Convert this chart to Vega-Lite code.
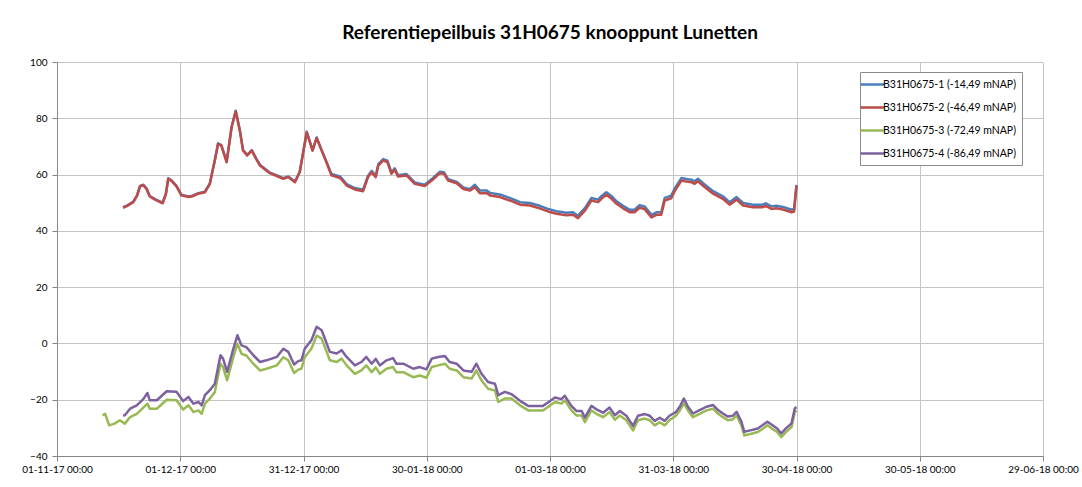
{
"$schema": "https://vega.github.io/schema/vega-lite/v6.json",
"width": 986, "height": 394,
"autosize": {"type": "none"},
"padding": {"left": 57, "top": 62, "right": 39, "bottom": 31},
"background": "white",
"config": {"view": {"stroke": null}},
"title": {"text": "Referentiepeilbuis 31H0675 knooppunt Lunetten", "font": "Lato", "fontSize": 19, "fontWeight": "bold", "color": "#000000", "anchor": "middle", "offset": 14},
"data": {"values": [
{"s":"1","t":"2017-11-17T02:00","v":48.4},{"s":"1","t":"2017-11-18T00:00","v":49.0},{"s":"1","t":"2017-11-19T14:00","v":50.4},{"s":"1","t":"2017-11-20T12:00","v":52.7},{"s":"1","t":"2017-11-21T05:00","v":56.0},{"s":"1","t":"2017-11-22T00:00","v":56.4},{"s":"1","t":"2017-11-22T19:00","v":55.1},{"s":"1","t":"2017-11-23T14:00","v":52.4},{"s":"1","t":"2017-11-25T00:00","v":51.2},{"s":"1","t":"2017-11-26T17:00","v":50.0},{"s":"1","t":"2017-11-27T12:00","v":53.2},{"s":"1","t":"2017-11-28T02:00","v":58.7},{"s":"1","t":"2017-11-29T00:00","v":57.8},{"s":"1","t":"2017-11-30T02:00","v":56.0},{"s":"1","t":"2017-12-01T07:00","v":52.8},{"s":"1","t":"2017-12-03T00:00","v":52.2},{"s":"1","t":"2017-12-04T00:00","v":52.5},{"s":"1","t":"2017-12-05T10:00","v":53.4},{"s":"1","t":"2017-12-07T00:00","v":53.9},{"s":"1","t":"2017-12-08T05:00","v":56.9},{"s":"1","t":"2017-12-09T10:00","v":65.2},{"s":"1","t":"2017-12-10T05:00","v":71.1},{"s":"1","t":"2017-12-11T00:00","v":70.5},{"s":"1","t":"2017-12-12T07:00","v":64.6},{"s":"1","t":"2017-12-13T12:00","v":77.0},{"s":"1","t":"2017-12-14T12:00","v":82.7},{"s":"1","t":"2017-12-15T12:00","v":75.8},{"s":"1","t":"2017-12-16T07:00","v":68.7},{"s":"1","t":"2017-12-17T07:00","v":67.0},{"s":"1","t":"2017-12-18T10:00","v":68.7},{"s":"1","t":"2017-12-19T12:00","v":65.7},{"s":"1","t":"2017-12-20T10:00","v":63.4},{"s":"1","t":"2017-12-22T19:00","v":60.7},{"s":"1","t":"2017-12-24T12:00","v":59.7},{"s":"1","t":"2017-12-26T02:00","v":58.7},{"s":"1","t":"2017-12-27T07:00","v":59.3},{"s":"1","t":"2017-12-28T22:00","v":57.5},{"s":"1","t":"2017-12-30T02:00","v":61.0},{"s":"1","t":"2017-12-31T19:00","v":75.2},{"s":"1","t":"2018-01-02T05:00","v":68.7},{"s":"1","t":"2018-01-03T05:00","v":73.2},{"s":"1","t":"2018-01-04T10:00","v":68.7},{"s":"1","t":"2018-01-05T14:00","v":64.6},{"s":"1","t":"2018-01-06T19:00","v":60.2},{"s":"1","t":"2018-01-08T22:00","v":59.3},{"s":"1","t":"2018-01-10T12:00","v":56.6},{"s":"1","t":"2018-01-12T12:00","v":55.2},{"s":"1","t":"2018-01-14T12:00","v":54.6},{"s":"1","t":"2018-01-15T17:00","v":59.6},{"s":"1","t":"2018-01-16T14:00","v":61.3},{"s":"1","t":"2018-01-17T14:00","v":59.6},{"s":"1","t":"2018-01-18T05:00","v":63.7},{"s":"1","t":"2018-01-19T10:00","v":65.5},{"s":"1","t":"2018-01-20T10:00","v":64.9},{"s":"1","t":"2018-01-21T10:00","v":60.8},{"s":"1","t":"2018-01-22T05:00","v":62.2},{"s":"1","t":"2018-01-23T00:00","v":59.8},{"s":"1","t":"2018-01-25T02:00","v":60.2},{"s":"1","t":"2018-01-27T02:00","v":57.2},{"s":"1","t":"2018-01-29T12:00","v":56.4},{"s":"1","t":"2018-01-31T05:00","v":58.4},{"s":"1","t":"2018-02-02T05:00","v":61.0},{"s":"1","t":"2018-02-03T05:00","v":60.8},{"s":"1","t":"2018-02-04T05:00","v":58.4},{"s":"1","t":"2018-02-06T07:00","v":57.4},{"s":"1","t":"2018-02-07T22:00","v":55.4},{"s":"1","t":"2018-02-09T12:00","v":54.8},{"s":"1","t":"2018-02-10T17:00","v":56.4},{"s":"1","t":"2018-02-11T22:00","v":54.3},{"s":"1","t":"2018-02-13T14:00","v":54.3},{"s":"1","t":"2018-02-14T10:00","v":53.5},{"s":"1","t":"2018-02-16T00:00","v":53.1},{"s":"1","t":"2018-02-16T19:00","v":52.9},{"s":"1","t":"2018-02-19T05:00","v":51.7},{"s":"1","t":"2018-02-21T17:00","v":50.2},{"s":"1","t":"2018-02-24T02:00","v":49.9},{"s":"1","t":"2018-02-26T12:00","v":48.9},{"s":"1","t":"2018-02-28T12:00","v":47.8},{"s":"1","t":"2018-03-02T14:00","v":47.0},{"s":"1","t":"2018-03-05T00:00","v":46.4},{"s":"1","t":"2018-03-06T14:00","v":46.6},{"s":"1","t":"2018-03-07T19:00","v":45.4},{"s":"1","t":"2018-03-09T12:00","v":48.1},{"s":"1","t":"2018-03-11T02:00","v":51.7},{"s":"1","t":"2018-03-12T17:00","v":51.1},{"s":"1","t":"2018-03-13T12:00","v":52.3},{"s":"1","t":"2018-03-14T17:00","v":53.7},{"s":"1","t":"2018-03-16T00:00","v":52.3},{"s":"1","t":"2018-03-17T05:00","v":50.5},{"s":"1","t":"2018-03-18T19:00","v":48.9},{"s":"1","t":"2018-03-20T10:00","v":47.5},{"s":"1","t":"2018-03-21T14:00","v":47.5},{"s":"1","t":"2018-03-22T19:00","v":49.1},{"s":"1","t":"2018-03-24T00:00","v":48.7},{"s":"1","t":"2018-03-25T17:00","v":45.7},{"s":"1","t":"2018-03-26T22:00","v":46.6},{"s":"1","t":"2018-03-28T02:00","v":46.6},{"s":"1","t":"2018-03-28T22:00","v":51.7},{"s":"1","t":"2018-03-30T12:00","v":52.5},{"s":"1","t":"2018-03-31T10:00","v":55.2},{"s":"1","t":"2018-04-02T00:00","v":58.8},{"s":"1","t":"2018-04-03T05:00","v":58.4},{"s":"1","t":"2018-04-04T10:00","v":58.2},{"s":"1","t":"2018-04-05T05:00","v":57.6},{"s":"1","t":"2018-04-06T00:00","v":58.5},{"s":"1","t":"2018-04-07T17:00","v":56.4},{"s":"1","t":"2018-04-09T17:00","v":54.1},{"s":"1","t":"2018-04-12T02:00","v":52.3},{"s":"1","t":"2018-04-13T17:00","v":50.2},{"s":"1","t":"2018-04-15T10:00","v":52.0},{"s":"1","t":"2018-04-17T00:00","v":49.9},{"s":"1","t":"2018-04-19T10:00","v":49.3},{"s":"1","t":"2018-04-21T19:00","v":49.3},{"s":"1","t":"2018-04-22T12:00","v":49.8},{"s":"1","t":"2018-04-23T22:00","v":48.7},{"s":"1","t":"2018-04-25T02:00","v":48.9},{"s":"1","t":"2018-04-26T17:00","v":48.5},{"s":"1","t":"2018-04-28T19:00","v":47.5},{"s":"1","t":"2018-04-29T10:00","v":47.8},{"s":"1","t":"2018-04-30T00:00","v":56.3},
{"s":"2","t":"2017-11-17T02:00","v":48.2},{"s":"2","t":"2017-11-18T00:00","v":48.8},{"s":"2","t":"2017-11-19T14:00","v":50.2},{"s":"2","t":"2017-11-20T12:00","v":52.5},{"s":"2","t":"2017-11-21T05:00","v":55.8},{"s":"2","t":"2017-11-22T00:00","v":56.2},{"s":"2","t":"2017-11-22T19:00","v":54.9},{"s":"2","t":"2017-11-23T14:00","v":52.2},{"s":"2","t":"2017-11-25T00:00","v":51.0},{"s":"2","t":"2017-11-26T17:00","v":49.8},{"s":"2","t":"2017-11-27T12:00","v":53.0},{"s":"2","t":"2017-11-28T02:00","v":58.5},{"s":"2","t":"2017-11-29T00:00","v":57.6},{"s":"2","t":"2017-11-30T02:00","v":55.8},{"s":"2","t":"2017-12-01T07:00","v":52.6},{"s":"2","t":"2017-12-03T00:00","v":52.0},{"s":"2","t":"2017-12-04T00:00","v":52.3},{"s":"2","t":"2017-12-05T10:00","v":53.2},{"s":"2","t":"2017-12-07T00:00","v":53.7},{"s":"2","t":"2017-12-08T05:00","v":56.7},{"s":"2","t":"2017-12-09T10:00","v":65.0},{"s":"2","t":"2017-12-10T05:00","v":70.9},{"s":"2","t":"2017-12-11T00:00","v":70.3},{"s":"2","t":"2017-12-12T07:00","v":64.4},{"s":"2","t":"2017-12-13T12:00","v":76.8},{"s":"2","t":"2017-12-14T12:00","v":82.5},{"s":"2","t":"2017-12-15T12:00","v":75.6},{"s":"2","t":"2017-12-16T07:00","v":68.5},{"s":"2","t":"2017-12-17T07:00","v":66.8},{"s":"2","t":"2017-12-18T10:00","v":68.5},{"s":"2","t":"2017-12-19T12:00","v":65.5},{"s":"2","t":"2017-12-20T10:00","v":63.2},{"s":"2","t":"2017-12-22T19:00","v":60.5},{"s":"2","t":"2017-12-24T12:00","v":59.5},{"s":"2","t":"2017-12-26T02:00","v":58.5},{"s":"2","t":"2017-12-27T07:00","v":59.1},{"s":"2","t":"2017-12-28T22:00","v":57.3},{"s":"2","t":"2017-12-30T02:00","v":60.8},{"s":"2","t":"2017-12-31T19:00","v":75.0},{"s":"2","t":"2018-01-02T05:00","v":68.5},{"s":"2","t":"2018-01-03T05:00","v":73.0},{"s":"2","t":"2018-01-04T10:00","v":68.5},{"s":"2","t":"2018-01-05T14:00","v":64.4},{"s":"2","t":"2018-01-06T19:00","v":59.7},{"s":"2","t":"2018-01-08T22:00","v":58.8},{"s":"2","t":"2018-01-10T12:00","v":56.1},{"s":"2","t":"2018-01-12T12:00","v":54.7},{"s":"2","t":"2018-01-14T12:00","v":54.1},{"s":"2","t":"2018-01-15T17:00","v":59.1},{"s":"2","t":"2018-01-16T14:00","v":60.8},{"s":"2","t":"2018-01-17T14:00","v":59.1},{"s":"2","t":"2018-01-18T05:00","v":63.2},{"s":"2","t":"2018-01-19T10:00","v":65.0},{"s":"2","t":"2018-01-20T10:00","v":64.4},{"s":"2","t":"2018-01-21T10:00","v":60.3},{"s":"2","t":"2018-01-22T05:00","v":61.7},{"s":"2","t":"2018-01-23T00:00","v":59.3},{"s":"2","t":"2018-01-25T02:00","v":59.7},{"s":"2","t":"2018-01-27T02:00","v":56.7},{"s":"2","t":"2018-01-29T12:00","v":55.9},{"s":"2","t":"2018-01-31T05:00","v":57.9},{"s":"2","t":"2018-02-02T05:00","v":60.5},{"s":"2","t":"2018-02-03T05:00","v":60.3},{"s":"2","t":"2018-02-04T05:00","v":57.9},{"s":"2","t":"2018-02-06T07:00","v":56.9},{"s":"2","t":"2018-02-07T22:00","v":54.9},{"s":"2","t":"2018-02-09T12:00","v":54.3},{"s":"2","t":"2018-02-10T17:00","v":55.5},{"s":"2","t":"2018-02-11T22:00","v":53.4},{"s":"2","t":"2018-02-13T14:00","v":53.4},{"s":"2","t":"2018-02-14T10:00","v":52.6},{"s":"2","t":"2018-02-16T00:00","v":52.2},{"s":"2","t":"2018-02-16T19:00","v":52.0},{"s":"2","t":"2018-02-19T05:00","v":50.8},{"s":"2","t":"2018-02-21T17:00","v":49.3},{"s":"2","t":"2018-02-24T02:00","v":49.0},{"s":"2","t":"2018-02-26T12:00","v":48.0},{"s":"2","t":"2018-02-28T12:00","v":46.9},{"s":"2","t":"2018-03-02T14:00","v":46.1},{"s":"2","t":"2018-03-05T00:00","v":45.5},{"s":"2","t":"2018-03-06T14:00","v":45.7},{"s":"2","t":"2018-03-07T19:00","v":44.5},{"s":"2","t":"2018-03-09T12:00","v":47.2},{"s":"2","t":"2018-03-11T02:00","v":50.8},{"s":"2","t":"2018-03-12T17:00","v":50.2},{"s":"2","t":"2018-03-13T12:00","v":51.4},{"s":"2","t":"2018-03-14T17:00","v":52.8},{"s":"2","t":"2018-03-16T00:00","v":51.4},{"s":"2","t":"2018-03-17T05:00","v":49.6},{"s":"2","t":"2018-03-18T19:00","v":48.0},{"s":"2","t":"2018-03-20T10:00","v":46.6},{"s":"2","t":"2018-03-21T14:00","v":46.6},{"s":"2","t":"2018-03-22T19:00","v":48.2},{"s":"2","t":"2018-03-24T00:00","v":47.8},{"s":"2","t":"2018-03-25T17:00","v":44.8},{"s":"2","t":"2018-03-26T22:00","v":45.7},{"s":"2","t":"2018-03-28T02:00","v":45.7},{"s":"2","t":"2018-03-28T22:00","v":50.8},{"s":"2","t":"2018-03-30T12:00","v":51.6},{"s":"2","t":"2018-03-31T10:00","v":54.3},{"s":"2","t":"2018-04-02T00:00","v":57.9},{"s":"2","t":"2018-04-03T05:00","v":57.5},{"s":"2","t":"2018-04-04T10:00","v":57.3},{"s":"2","t":"2018-04-05T05:00","v":56.7},{"s":"2","t":"2018-04-06T00:00","v":57.6},{"s":"2","t":"2018-04-07T17:00","v":55.5},{"s":"2","t":"2018-04-09T17:00","v":53.2},{"s":"2","t":"2018-04-12T02:00","v":51.4},{"s":"2","t":"2018-04-13T17:00","v":49.3},{"s":"2","t":"2018-04-15T10:00","v":51.1},{"s":"2","t":"2018-04-17T00:00","v":49.0},{"s":"2","t":"2018-04-19T10:00","v":48.4},{"s":"2","t":"2018-04-21T19:00","v":48.4},{"s":"2","t":"2018-04-22T12:00","v":48.9},{"s":"2","t":"2018-04-23T22:00","v":47.8},{"s":"2","t":"2018-04-25T02:00","v":48.0},{"s":"2","t":"2018-04-26T17:00","v":47.6},{"s":"2","t":"2018-04-28T19:00","v":46.6},{"s":"2","t":"2018-04-29T10:00","v":46.9},{"s":"2","t":"2018-04-30T00:00","v":56.1},
{"s":"3","t":"2017-11-12T02:00","v":-25.6},{"s":"3","t":"2017-11-12T17:00","v":-25.0},{"s":"3","t":"2017-11-13T17:00","v":-29.1},{"s":"3","t":"2017-11-15T00:00","v":-28.5},{"s":"3","t":"2017-11-16T07:00","v":-27.3},{"s":"3","t":"2017-11-17T12:00","v":-28.5},{"s":"3","t":"2017-11-18T19:00","v":-26.2},{"s":"3","t":"2017-11-20T10:00","v":-25.0},{"s":"3","t":"2017-11-22T00:00","v":-22.8},{"s":"3","t":"2017-11-23T00:00","v":-21.4},{"s":"3","t":"2017-11-23T14:00","v":-23.2},{"s":"3","t":"2017-11-25T07:00","v":-23.2},{"s":"3","t":"2017-11-27T17:00","v":-20.0},{"s":"3","t":"2017-11-30T02:00","v":-20.2},{"s":"3","t":"2017-12-01T17:00","v":-23.5},{"s":"3","t":"2017-12-03T00:00","v":-22.0},{"s":"3","t":"2017-12-04T05:00","v":-24.4},{"s":"3","t":"2017-12-05T10:00","v":-23.8},{"s":"3","t":"2017-12-06T05:00","v":-25.0},{"s":"3","t":"2017-12-07T00:00","v":-21.4},{"s":"3","t":"2017-12-08T05:00","v":-19.6},{"s":"3","t":"2017-12-09T10:00","v":-17.3},{"s":"3","t":"2017-12-10T19:00","v":-7.2},{"s":"3","t":"2017-12-11T10:00","v":-8.4},{"s":"3","t":"2017-12-12T10:00","v":-13.1},{"s":"3","t":"2017-12-13T22:00","v":-4.9},{"s":"3","t":"2017-12-14T22:00","v":-0.1},{"s":"3","t":"2017-12-15T22:00","v":-3.7},{"s":"3","t":"2017-12-17T02:00","v":-4.3},{"s":"3","t":"2017-12-18T19:00","v":-7.2},{"s":"3","t":"2017-12-20T10:00","v":-9.6},{"s":"3","t":"2017-12-22T00:00","v":-9.0},{"s":"3","t":"2017-12-24T12:00","v":-7.8},{"s":"3","t":"2017-12-26T02:00","v":-4.9},{"s":"3","t":"2017-12-27T07:00","v":-6.0},{"s":"3","t":"2017-12-28T17:00","v":-10.5},{"s":"3","t":"2017-12-29T17:00","v":-9.3},{"s":"3","t":"2017-12-30T12:00","v":-9.0},{"s":"3","t":"2017-12-31T07:00","v":-4.9},{"s":"3","t":"2018-01-01T22:00","v":-1.9},{"s":"3","t":"2018-01-03T05:00","v":2.8},{"s":"3","t":"2018-01-04T10:00","v":1.7},{"s":"3","t":"2018-01-05T05:00","v":-1.3},{"s":"3","t":"2018-01-06T10:00","v":-6.0},{"s":"3","t":"2018-01-08T02:00","v":-6.6},{"s":"3","t":"2018-01-09T07:00","v":-5.4},{"s":"3","t":"2018-01-10T12:00","v":-7.8},{"s":"3","t":"2018-01-12T12:00","v":-10.8},{"s":"3","t":"2018-01-14T02:00","v":-9.6},{"s":"3","t":"2018-01-15T07:00","v":-7.8},{"s":"3","t":"2018-01-16T14:00","v":-10.2},{"s":"3","t":"2018-01-17T14:00","v":-8.5},{"s":"3","t":"2018-01-18T14:00","v":-10.8},{"s":"3","t":"2018-01-20T05:00","v":-9.0},{"s":"3","t":"2018-01-21T19:00","v":-8.4},{"s":"3","t":"2018-01-22T14:00","v":-10.2},{"s":"3","t":"2018-01-24T07:00","v":-10.2},{"s":"3","t":"2018-01-26T17:00","v":-12.0},{"s":"3","t":"2018-01-28T07:00","v":-11.4},{"s":"3","t":"2018-01-29T22:00","v":-12.2},{"s":"3","t":"2018-01-31T05:00","v":-8.4},{"s":"3","t":"2018-02-01T19:00","v":-7.8},{"s":"3","t":"2018-02-03T10:00","v":-7.2},{"s":"3","t":"2018-02-04T14:00","v":-9.0},{"s":"3","t":"2018-02-06T07:00","v":-9.6},{"s":"3","t":"2018-02-07T22:00","v":-12.0},{"s":"3","t":"2018-02-09T22:00","v":-12.5},{"s":"3","t":"2018-02-11T02:00","v":-9.6},{"s":"3","t":"2018-02-12T07:00","v":-13.1},{"s":"3","t":"2018-02-13T22:00","v":-16.1},{"s":"3","t":"2018-02-15T14:00","v":-16.7},{"s":"3","t":"2018-02-16T10:00","v":-20.8},{"s":"3","t":"2018-02-18T00:00","v":-19.6},{"s":"3","t":"2018-02-19T14:00","v":-19.6},{"s":"3","t":"2018-02-21T17:00","v":-22.0},{"s":"3","t":"2018-02-23T17:00","v":-23.8},{"s":"3","t":"2018-02-25T17:00","v":-23.8},{"s":"3","t":"2018-02-27T07:00","v":-23.8},{"s":"3","t":"2018-02-28T12:00","v":-22.6},{"s":"3","t":"2018-03-02T05:00","v":-20.8},{"s":"3","t":"2018-03-03T19:00","v":-21.4},{"s":"3","t":"2018-03-04T14:00","v":-20.2},{"s":"3","t":"2018-03-06T05:00","v":-23.8},{"s":"3","t":"2018-03-07T10:00","v":-25.6},{"s":"3","t":"2018-03-08T17:00","v":-25.6},{"s":"3","t":"2018-03-09T12:00","v":-28.0},{"s":"3","t":"2018-03-11T02:00","v":-23.8},{"s":"3","t":"2018-03-12T07:00","v":-25.0},{"s":"3","t":"2018-03-13T22:00","v":-26.2},{"s":"3","t":"2018-03-15T12:00","v":-24.4},{"s":"3","t":"2018-03-16T19:00","v":-27.1},{"s":"3","t":"2018-03-18T00:00","v":-25.6},{"s":"3","t":"2018-03-19T14:00","v":-27.3},{"s":"3","t":"2018-03-21T05:00","v":-30.9},{"s":"3","t":"2018-03-22T10:00","v":-27.3},{"s":"3","t":"2018-03-24T02:00","v":-26.7},{"s":"3","t":"2018-03-25T07:00","v":-27.3},{"s":"3","t":"2018-03-26T12:00","v":-29.1},{"s":"3","t":"2018-03-27T17:00","v":-28.0},{"s":"3","t":"2018-03-28T22:00","v":-29.1},{"s":"3","t":"2018-03-30T02:00","v":-27.3},{"s":"3","t":"2018-03-31T17:00","v":-25.6},{"s":"3","t":"2018-04-01T14:00","v":-23.8},{"s":"3","t":"2018-04-02T14:00","v":-21.4},{"s":"3","t":"2018-04-03T14:00","v":-23.8},{"s":"3","t":"2018-04-04T19:00","v":-26.2},{"s":"3","t":"2018-04-06T10:00","v":-25.0},{"s":"3","t":"2018-04-08T02:00","v":-23.8},{"s":"3","t":"2018-04-09T17:00","v":-23.2},{"s":"3","t":"2018-04-10T22:00","v":-25.0},{"s":"3","t":"2018-04-12T02:00","v":-26.2},{"s":"3","t":"2018-04-13T07:00","v":-27.3},{"s":"3","t":"2018-04-14T12:00","v":-27.0},{"s":"3","t":"2018-04-15T10:00","v":-25.6},{"s":"3","t":"2018-04-16T14:00","v":-29.1},{"s":"3","t":"2018-04-17T07:00","v":-32.7},{"s":"3","t":"2018-04-19T00:00","v":-32.1},{"s":"3","t":"2018-04-20T14:00","v":-31.5},{"s":"3","t":"2018-04-21T19:00","v":-30.3},{"s":"3","t":"2018-04-22T22:00","v":-29.1},{"s":"3","t":"2018-04-24T02:00","v":-30.3},{"s":"3","t":"2018-04-25T07:00","v":-31.5},{"s":"3","t":"2018-04-26T07:00","v":-33.3},{"s":"3","t":"2018-04-27T10:00","v":-31.5},{"s":"3","t":"2018-04-28T19:00","v":-29.7},{"s":"3","t":"2018-04-29T14:00","v":-24.4},{"s":"3","t":"2018-04-30T00:00","v":-23.8},
{"s":"4","t":"2017-11-17T02:00","v":-25.6},{"s":"4","t":"2017-11-17T12:00","v":-25.5},{"s":"4","t":"2017-11-18T19:00","v":-23.2},{"s":"4","t":"2017-11-20T10:00","v":-22.0},{"s":"4","t":"2017-11-22T00:00","v":-19.8},{"s":"4","t":"2017-11-23T00:00","v":-17.6},{"s":"4","t":"2017-11-23T14:00","v":-20.2},{"s":"4","t":"2017-11-25T07:00","v":-20.2},{"s":"4","t":"2017-11-27T17:00","v":-17.0},{"s":"4","t":"2017-11-30T02:00","v":-17.2},{"s":"4","t":"2017-12-01T17:00","v":-20.5},{"s":"4","t":"2017-12-03T00:00","v":-19.0},{"s":"4","t":"2017-12-04T05:00","v":-21.4},{"s":"4","t":"2017-12-05T10:00","v":-20.8},{"s":"4","t":"2017-12-06T05:00","v":-22.0},{"s":"4","t":"2017-12-07T00:00","v":-18.4},{"s":"4","t":"2017-12-08T05:00","v":-16.6},{"s":"4","t":"2017-12-09T10:00","v":-14.3},{"s":"4","t":"2017-12-10T19:00","v":-4.2},{"s":"4","t":"2017-12-11T10:00","v":-5.4},{"s":"4","t":"2017-12-12T10:00","v":-10.1},{"s":"4","t":"2017-12-13T22:00","v":-1.9},{"s":"4","t":"2017-12-14T22:00","v":2.9},{"s":"4","t":"2017-12-15T22:00","v":-0.7},{"s":"4","t":"2017-12-17T02:00","v":-1.3},{"s":"4","t":"2017-12-18T19:00","v":-4.2},{"s":"4","t":"2017-12-20T10:00","v":-6.6},{"s":"4","t":"2017-12-22T00:00","v":-6.0},{"s":"4","t":"2017-12-24T12:00","v":-4.8},{"s":"4","t":"2017-12-26T02:00","v":-1.9},{"s":"4","t":"2017-12-27T07:00","v":-3.0},{"s":"4","t":"2017-12-28T17:00","v":-7.5},{"s":"4","t":"2017-12-29T17:00","v":-6.3},{"s":"4","t":"2017-12-30T12:00","v":-6.0},{"s":"4","t":"2017-12-31T07:00","v":-1.9},{"s":"4","t":"2018-01-01T22:00","v":1.1},{"s":"4","t":"2018-01-03T05:00","v":5.9},{"s":"4","t":"2018-01-04T10:00","v":4.7},{"s":"4","t":"2018-01-05T05:00","v":1.7},{"s":"4","t":"2018-01-06T10:00","v":-3.0},{"s":"4","t":"2018-01-08T02:00","v":-3.6},{"s":"4","t":"2018-01-09T07:00","v":-2.4},{"s":"4","t":"2018-01-10T12:00","v":-4.8},{"s":"4","t":"2018-01-12T12:00","v":-7.8},{"s":"4","t":"2018-01-14T02:00","v":-6.6},{"s":"4","t":"2018-01-15T07:00","v":-4.8},{"s":"4","t":"2018-01-16T14:00","v":-7.2},{"s":"4","t":"2018-01-17T14:00","v":-5.5},{"s":"4","t":"2018-01-18T14:00","v":-7.8},{"s":"4","t":"2018-01-20T05:00","v":-6.0},{"s":"4","t":"2018-01-21T19:00","v":-5.2},{"s":"4","t":"2018-01-22T14:00","v":-7.2},{"s":"4","t":"2018-01-24T07:00","v":-7.2},{"s":"4","t":"2018-01-26T17:00","v":-9.0},{"s":"4","t":"2018-01-28T07:00","v":-8.4},{"s":"4","t":"2018-01-29T22:00","v":-9.2},{"s":"4","t":"2018-01-31T05:00","v":-5.4},{"s":"4","t":"2018-02-01T19:00","v":-4.8},{"s":"4","t":"2018-02-03T10:00","v":-4.5},{"s":"4","t":"2018-02-04T14:00","v":-6.6},{"s":"4","t":"2018-02-06T07:00","v":-7.2},{"s":"4","t":"2018-02-07T22:00","v":-9.6},{"s":"4","t":"2018-02-09T22:00","v":-10.1},{"s":"4","t":"2018-02-11T02:00","v":-7.2},{"s":"4","t":"2018-02-12T07:00","v":-10.7},{"s":"4","t":"2018-02-13T22:00","v":-13.7},{"s":"4","t":"2018-02-15T14:00","v":-14.3},{"s":"4","t":"2018-02-16T10:00","v":-18.4},{"s":"4","t":"2018-02-18T00:00","v":-17.2},{"s":"4","t":"2018-02-19T14:00","v":-18.0},{"s":"4","t":"2018-02-21T17:00","v":-20.4},{"s":"4","t":"2018-02-23T17:00","v":-22.2},{"s":"4","t":"2018-02-25T17:00","v":-22.2},{"s":"4","t":"2018-02-27T07:00","v":-22.2},{"s":"4","t":"2018-02-28T12:00","v":-21.0},{"s":"4","t":"2018-03-02T05:00","v":-19.2},{"s":"4","t":"2018-03-03T19:00","v":-19.8},{"s":"4","t":"2018-03-04T14:00","v":-18.6},{"s":"4","t":"2018-03-06T05:00","v":-22.2},{"s":"4","t":"2018-03-07T10:00","v":-24.0},{"s":"4","t":"2018-03-08T17:00","v":-24.0},{"s":"4","t":"2018-03-09T12:00","v":-26.4},{"s":"4","t":"2018-03-11T02:00","v":-22.2},{"s":"4","t":"2018-03-12T07:00","v":-23.4},{"s":"4","t":"2018-03-13T22:00","v":-24.6},{"s":"4","t":"2018-03-15T12:00","v":-22.8},{"s":"4","t":"2018-03-16T19:00","v":-25.5},{"s":"4","t":"2018-03-18T00:00","v":-24.0},{"s":"4","t":"2018-03-19T14:00","v":-25.7},{"s":"4","t":"2018-03-21T05:00","v":-29.3},{"s":"4","t":"2018-03-22T10:00","v":-25.7},{"s":"4","t":"2018-03-24T02:00","v":-25.1},{"s":"4","t":"2018-03-25T07:00","v":-25.7},{"s":"4","t":"2018-03-26T12:00","v":-27.5},{"s":"4","t":"2018-03-27T17:00","v":-26.4},{"s":"4","t":"2018-03-28T22:00","v":-27.5},{"s":"4","t":"2018-03-30T02:00","v":-25.7},{"s":"4","t":"2018-03-31T17:00","v":-24.3},{"s":"4","t":"2018-04-01T14:00","v":-22.5},{"s":"4","t":"2018-04-02T14:00","v":-19.6},{"s":"4","t":"2018-04-03T14:00","v":-22.5},{"s":"4","t":"2018-04-04T19:00","v":-24.9},{"s":"4","t":"2018-04-06T10:00","v":-23.7},{"s":"4","t":"2018-04-08T02:00","v":-22.5},{"s":"4","t":"2018-04-09T17:00","v":-21.9},{"s":"4","t":"2018-04-10T22:00","v":-23.7},{"s":"4","t":"2018-04-12T02:00","v":-24.9},{"s":"4","t":"2018-04-13T07:00","v":-26.0},{"s":"4","t":"2018-04-14T12:00","v":-25.7},{"s":"4","t":"2018-04-15T10:00","v":-24.3},{"s":"4","t":"2018-04-16T14:00","v":-27.8},{"s":"4","t":"2018-04-17T07:00","v":-31.4},{"s":"4","t":"2018-04-19T00:00","v":-30.8},{"s":"4","t":"2018-04-20T14:00","v":-30.2},{"s":"4","t":"2018-04-21T19:00","v":-29.0},{"s":"4","t":"2018-04-22T22:00","v":-27.8},{"s":"4","t":"2018-04-24T02:00","v":-29.0},{"s":"4","t":"2018-04-25T07:00","v":-30.2},{"s":"4","t":"2018-04-26T07:00","v":-32.0},{"s":"4","t":"2018-04-27T10:00","v":-30.2},{"s":"4","t":"2018-04-28T19:00","v":-28.4},{"s":"4","t":"2018-04-29T14:00","v":-23.1},{"s":"4","t":"2018-04-30T00:00","v":-22.6}
]},
"mark": {"type": "line", "strokeWidth": 2.5, "strokeJoin": "round"},
"encoding": {
"x": {"field": "t", "type": "temporal",
 "scale": {"domain": [{"year": 2017, "month": 11, "date": 1}, {"year": 2018, "month": 6, "date": 29}]},
 "axis": {"title": null, "format": "%d-%m-%y %H:%M", "grid": true, "gridColor": "#C4C4C4", "gridWidth": 1,
  "values": [{"year": 2017, "month": 11, "date": 1}, {"year": 2017, "month": 12, "date": 1}, {"year": 2017, "month": 12, "date": 31}, {"year": 2018, "month": 1, "date": 30}, {"year": 2018, "month": 3, "date": 1}, {"year": 2018, "month": 3, "date": 31}, {"year": 2018, "month": 4, "date": 30}, {"year": 2018, "month": 5, "date": 30}, {"year": 2018, "month": 6, "date": 29}],
  "domainColor": "#868686", "tickColor": "#868686", "tickSize": 5, "labelFont": "Lato", "labelFontSize": 10, "labelColor": "#000000", "labelPadding": 3, "labelOverlap": false, "labelFlush": false}},
"y": {"field": "v", "type": "quantitative",
 "scale": {"domain": [-40, 100], "nice": false, "zero": false},
 "axis": {"title": null, "values": [-40, -20, 0, 20, 40, 60, 80, 100], "grid": true, "gridColor": "#C4C4C4", "domainColor": "#868686", "tickColor": "#868686", "tickSize": 5, "labelFont": "Lato", "labelFontSize": 10, "labelColor": "#000000", "labelPadding": 5}},
"color": {"field": "s", "type": "nominal",
 "scale": {"domain": ["1", "2", "3", "4"], "range": ["#4A7EBB", "#BE4B48", "#98B954", "#7D60A0"]},
 "legend": {"title": null, "orient": "none", "legendX": 803, "legendY": 10, "direction": "vertical",
  "strokeColor": "#8C8C8C", "fillColor": "#FFFFFF", "padding": 6, "rowPadding": 11,
  "symbolType": "M-2.4,0L2.4,0", "symbolSize": 100, "symbolStrokeWidth": 2.5, "symbolOffset": 0,
  "labelFont": "Lato", "labelFontSize": 10.5, "labelColor": "#000000", "labelOffset": 4, "labelLimit": 300,
  "labelExpr": "datum.value == '1' ? 'B31H0675-1 (-14,49 mNAP)' : datum.value == '2' ? 'B31H0675-2 (-46,49 mNAP)' : datum.value == '3' ? 'B31H0675-3 (-72,49 mNAP)' : 'B31H0675-4 (-86,49 mNAP)'"}}
}
}
